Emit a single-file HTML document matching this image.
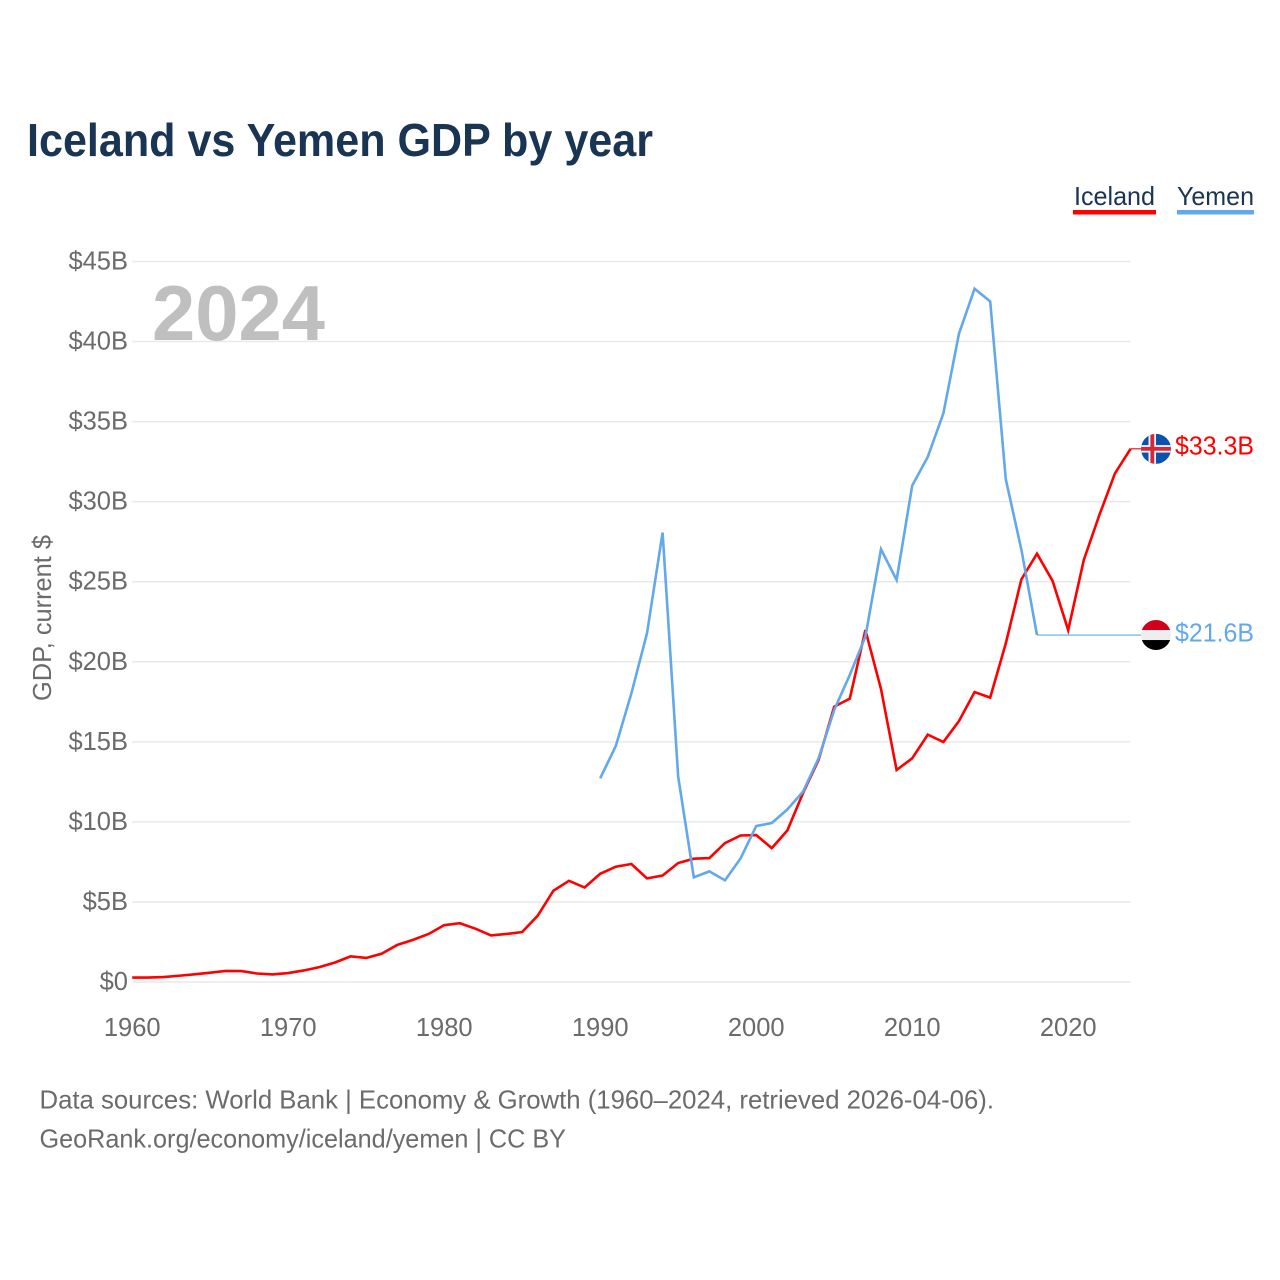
<!DOCTYPE html>
<html lang="en">
<head>
<meta charset="utf-8">
<title>Iceland vs Yemen GDP by year</title>
<style>
html,body{margin:0;padding:0;background:#fff;}
svg{display:block;}
text{font-family:"Liberation Sans",sans-serif;}
</style>
</head>
<body>
<svg id="chart" xmlns="http://www.w3.org/2000/svg" width="1280" height="1280" viewBox="0 0 1280 1280">
  <defs>
    <clipPath id="flag-clip" clipPathUnits="objectBoundingBox"><circle cx="0.5" cy="0.5" r="0.5"></circle></clipPath>
  </defs>
  <rect x="0" y="0" width="1280" height="1280" fill="#ffffff"></rect>
  <text x="27" y="156" font-size="46" font-weight="700" fill="#1a3454" textLength="626" lengthAdjust="spacingAndGlyphs">Iceland vs Yemen GDP by year</text>

  <g>
    <g>
      <text x="1074" y="205" font-size="26" fill="#1a3454" textLength="81" lengthAdjust="spacingAndGlyphs">Iceland</text>
      <rect x="1073" y="210" width="83" height="4.5" fill="#ff0000"></rect>
    </g>
    <g>
      <text x="1177" y="205" font-size="26" fill="#1a3454" textLength="77" lengthAdjust="spacingAndGlyphs">Yemen</text>
      <rect x="1177" y="210" width="77" height="4.5" fill="#62a8ea"></rect>
    </g>
  </g>

  <g id="grid"></g>
  <g id="y-ticks"></g>
  <g id="x-ticks"></g>

  <text x="152" y="340" font-size="78" font-weight="700" fill="#bfbfbf" textLength="173" lengthAdjust="spacingAndGlyphs">2024</text>
  <text transform="translate(51 701) rotate(-90)" font-size="26" fill="#6b6b6b" textLength="166" lengthAdjust="spacingAndGlyphs">GDP, current $</text>

  <g id="series"></g>

  <g id="flag-iceland" clip-path="url(#flag-clip)">
    <rect x="-15" y="-15" width="30" height="30" fill="#0a52b0"></rect>
    <rect x="-7.5" y="-15" width="7.5" height="30" fill="#f0f0f0"></rect>
    <rect x="-15" y="-3.75" width="30" height="7.5" fill="#f0f0f0"></rect>
    <rect x="-5.6" y="-15" width="3.8" height="30" fill="#d72838"></rect>
    <rect x="-15" y="-1.9" width="30" height="3.8" fill="#d72838"></rect>
  </g>
  <g id="flag-yemen" clip-path="url(#flag-clip)">
    <rect x="-15" y="-15" width="30" height="10" fill="#d0021b"></rect>
    <rect x="-15" y="-5" width="30" height="10" fill="#eeeeee"></rect>
    <rect x="-15" y="5" width="30" height="10" fill="#000000"></rect>
  </g>

  <text id="value-iceland" x="1175" y="454" font-size="26" fill="#ff0000" textLength="79" lengthAdjust="spacingAndGlyphs"></text>
  <text id="value-yemen" x="1175" y="641" font-size="26" fill="#62a8ea" textLength="79" lengthAdjust="spacingAndGlyphs"></text>

  <text x="39.5" y="1108.5" font-size="26" fill="#6b6b6b" textLength="954.5" lengthAdjust="spacingAndGlyphs">Data sources: World Bank | Economy &amp; Growth (1960–2024, retrieved 2026-04-06).</text>
  <text x="39.5" y="1147.5" font-size="26" fill="#6b6b6b" textLength="526.5" lengthAdjust="spacingAndGlyphs">GeoRank.org/economy/iceland/yemen | CC BY</text>
</svg>

<script>
const years = [1960,1961,1962,1963,1964,1965,1966,1967,1968,1969,1970,1971,1972,1973,1974,1975,1976,1977,1978,1979,1980,1981,1982,1983,1984,1985,1986,1987,1988,1989,1990,1991,1992,1993,1994,1995,1996,1997,1998,1999,2000,2001,2002,2003,2004,2005,2006,2007,2008,2009,2010,2011,2012,2013,2014,2015,2016,2017,2018,2019,2020,2021,2022,2023,2024];
const icelandValues = [0.28,0.28,0.31,0.39,0.48,0.58,0.69,0.68,0.53,0.47,0.56,0.72,0.93,1.22,1.6,1.5,1.77,2.32,2.63,3.0,3.55,3.67,3.33,2.91,3.0,3.12,4.15,5.7,6.32,5.9,6.76,7.2,7.37,6.47,6.65,7.43,7.7,7.74,8.68,9.15,9.18,8.36,9.47,11.8,13.87,17.2,17.7,21.98,18.3,13.24,13.97,15.45,14.99,16.3,18.11,17.76,21.15,25.15,26.75,25.05,21.98,26.36,29.17,31.77,33.3];
const yemenYears = [1990,1991,1992,1993,1994,1995,1996,1997,1998,1999,2000,2001,2002,2003,2004,2005,2006,2007,2008,2009,2010,2011,2012,2013,2014,2015,2016,2017,2018];
const yemenValues = [12.72,14.74,18.03,21.78,28.07,12.82,6.54,6.91,6.35,7.72,9.74,9.93,10.78,11.89,13.97,16.99,19.18,21.57,27.03,25.11,31.0,32.8,35.52,40.5,43.3,42.5,31.4,27.0,21.67];
const yTickValues = [0,5,10,15,20,25,30,35,40,45];
const yTickLabels = ["$0","$5B","$10B","$15B","$20B","$25B","$30B","$35B","$40B","$45B"];
const xTickValues = [1960,1970,1980,1990,2000,2010,2020];
const xTickLabels = ["1960","1970","1980","1990","2000","2010","2020"];
const icelandValueLabel = "$33.3B";
const yemenValueLabel = "$21.6B";

const NS = "http://www.w3.org/2000/svg";
const plotLeft = 132.2, plotRight = 1130.6, plotBottom = 982, plotTop = 261.5;
const xMin = 1960, xMax = 2024, yMin = 0, yMax = 45;
const flagX = 1156;

function xScale(v){ return plotLeft + (v - xMin) / (xMax - xMin) * (plotRight - plotLeft); }
function yScale(v){ return plotBottom - (v - yMin) / (yMax - yMin) * (plotBottom - plotTop); }
function make(tag, attrs){
  const el = document.createElementNS(NS, tag);
  for (const k in attrs) el.setAttribute(k, attrs[k]);
  return el;
}
function pts(xs, ys){ return xs.map((x,i)=>xScale(x).toFixed(2)+","+yScale(ys[i]).toFixed(2)).join(" "); }

const grid = document.getElementById("grid");
const yTicksG = document.getElementById("y-ticks");
yTickValues.forEach((v,i)=>{
  const line = make("line",{x1:plotLeft,x2:plotRight,y1:yScale(v),y2:yScale(v),stroke:"#e9e9e9","stroke-width":1.5});
  
  
  grid.appendChild(line);
  const t = make("text",{x:128,y:yScale(v)+8,"text-anchor":"end","font-size":25.5,fill:"#6b6b6b"});
  
  
  t.textContent = yTickLabels[i];
  yTicksG.appendChild(t);
});

const xTicksG = document.getElementById("x-ticks");
xTickValues.forEach((v,i)=>{
  const t = make("text",{x:xScale(v),y:1036,"text-anchor":"middle","font-size":25.5,fill:"#6b6b6b"});
  
  
  t.textContent = xTickLabels[i];
  xTicksG.appendChild(t);
});

const seriesG = document.getElementById("series");
function drawSeries(xs, ys, color, name){
  const lastX = xScale(xs[xs.length-1]), lastY = yScale(ys[ys.length-1]);
  const connector = make("line",{x1:lastX,x2:flagX,y1:lastY,y2:lastY,stroke:color,"stroke-width":1.2});
  
  
  seriesG.appendChild(connector);
  const line = make("polyline",{points:pts(xs,ys),fill:"none",stroke:color,"stroke-width":2.6,"stroke-linejoin":"miter","stroke-miterlimit":4});
  
  
  seriesG.appendChild(line);
  return lastY;
}
const icelandLastY = drawSeries(years, icelandValues, "#ff0000", "iceland");
const yemenLastY = drawSeries(yemenYears, yemenValues, "#62a8ea", "yemen");

document.getElementById("flag-iceland").setAttribute("transform","translate("+flagX+" "+icelandLastY+")");
document.getElementById("flag-yemen").setAttribute("transform","translate("+flagX+" "+yemenLastY+")");
const vi = document.getElementById("value-iceland");
vi.textContent = icelandValueLabel;
vi.setAttribute("y", icelandLastY + 5.5);
const vy = document.getElementById("value-yemen");
vy.textContent = yemenValueLabel;
vy.setAttribute("y", yemenLastY + 6.5);
</script>
</body>
</html>
